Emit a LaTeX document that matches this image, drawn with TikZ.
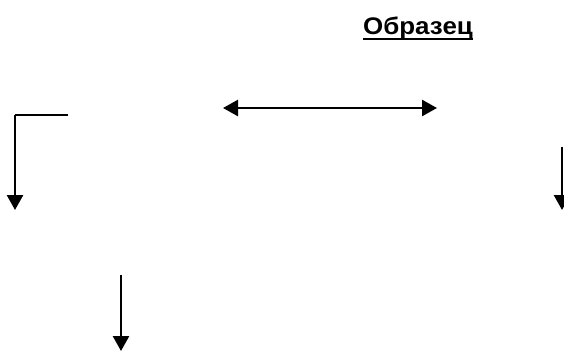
\documentclass[tikz,border=0pt]{standalone}
\usepackage{fontspec}
\setmainfont{Liberation Sans}
\usetikzlibrary{arrows.meta}
\tikzset{
  conn/.style={line width=2.5bp, -{Triangle[length=15bp,width=16bp]}},
  dconn/.style={line width=2.5bp, {Triangle[length=15bp,width=16bp]}-{Triangle[length=15bp,width=16bp]}},
  plain/.style={line width=2.5bp},
  title/.style={inner sep=0pt, anchor=base west, font=\bfseries\fontsize{24bp}{26bp}\selectfont}
}
\begin{document}
\begin{tikzpicture}[x=1bp,y=-1bp]
\useasboundingbox (0,0) rectangle (564,352);
\node[title] (t) at (363,34) {\scalebox{1.08}[1]{Образец}};
\draw[line width=2.2bp] ([yshift=-5bp]t.base west) -- ([yshift=-5bp]t.base east);
% double arrow
\coordinate (da) at (223,108);
\coordinate (db) at (437,108);
\draw[dconn] (da) -- (db);
% left corner arrow
\coordinate (la) at (68,115);
\coordinate (lb) at (15,115);
\coordinate (lc) at (15,210);
\draw[plain] (la) -- (lb);
\draw[conn] (lb) -- (lc);
% right arrow
\coordinate (ra) at (562,147);
\coordinate (rb) at (562,210);
\draw[conn] (ra) -- (rb);
% bottom arrow
\coordinate (ba) at (121,275);
\coordinate (bb) at (121,351);
\draw[conn] (ba) -- (bb);
\end{tikzpicture}
\end{document}
